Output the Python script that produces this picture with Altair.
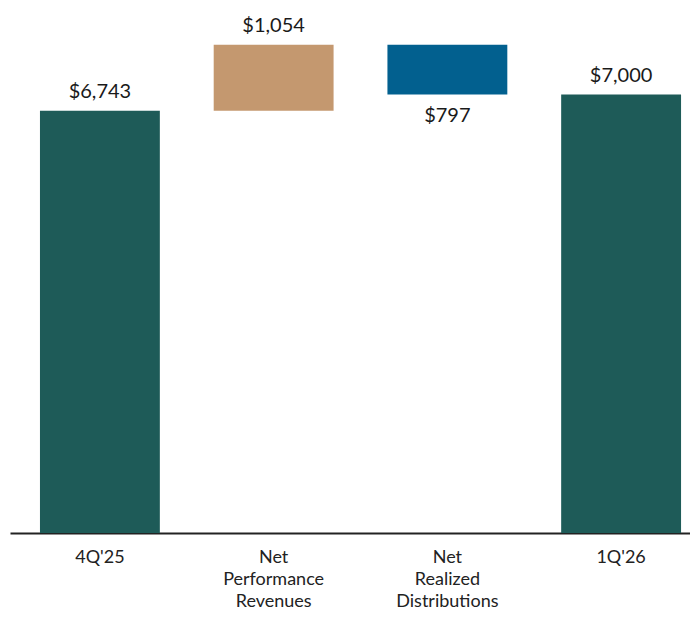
import altair as alt
import pandas as pd

categories = ["4Q'25", "Net Performance Revenues", "Net Realized Distributions", "1Q'26"]
amounts = [6743, 1054, -797, 7000]
kinds = ["total", "delta", "delta", "total"]
labels = ["$6,743", "$1,054", "$797", "$7,000"]
colors = ["#1E5B58", "#C4986F", "#02608F", "#1E5B58"]

lo, hi = [], []
running = 0
for a, k in zip(amounts, kinds):
    if k == "total":
        s, e = 0, a
        running = a
    else:
        s, e = running, running + a
        running = e
    lo.append(min(s, e))
    hi.append(max(s, e))

df = pd.DataFrame({
    "category": categories,
    "amount": amounts,
    "lo": lo,
    "hi": hi,
    "label": labels,
})

FONT = "Lato"

x_enc = alt.X(
    "category:N",
    sort=categories,
    scale=alt.Scale(paddingInner=0.31, paddingOuter=0.112, align=0.77),
    axis=alt.Axis(
        title=None,
        labelAngle=0,
        labelExpr="split(datum.label, ' ')",
        labelFont=FONT,
        labelFontSize=18,
        labelColor="#222222",
        labelLineHeight=22,
        labelPadding=15,
        ticks=False,
        domainColor="#222222",
        domainWidth=2,
        grid=False,
    ),
)

base = alt.Chart(df).encode(x=x_enc)

bars = base.mark_bar().encode(
    y=alt.Y("lo:Q", scale=alt.Scale(domain=[0, 8350], nice=False), axis=None),
    y2="hi:Q",
    color=alt.Color("category:N", scale=alt.Scale(domain=categories, range=colors), legend=None),
)

text_up = base.transform_filter("datum.amount >= 0").mark_text(
    baseline="bottom", dy=-9, font=FONT, fontSize=20, color="#1a1a1a"
).encode(y=alt.Y("hi:Q"), text="label:N")

text_down = base.transform_filter("datum.amount < 0").mark_text(
    baseline="top", dy=11, font=FONT, fontSize=20, color="#1a1a1a"
).encode(y=alt.Y("lo:Q"), text="label:N")

chart = (
    alt.layer(bars, text_up, text_down)
    .properties(width=680, height=523, padding={"left": 2, "top": 2, "right": 0, "bottom": 0})
    .configure_view(stroke=None, fill="white")
)

chart.save("out.html", embed_options={"renderer": "svg", "actions": False})
